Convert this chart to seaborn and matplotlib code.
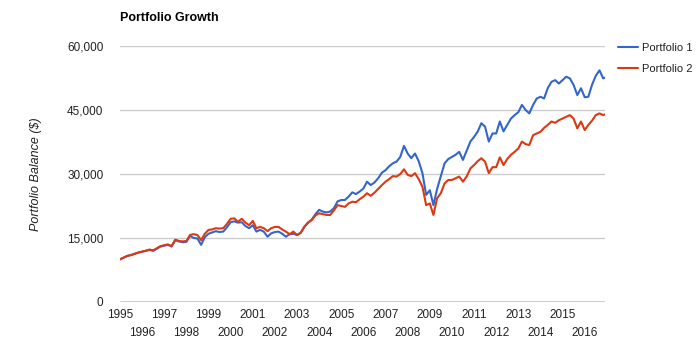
import matplotlib
matplotlib.use("Agg")
import matplotlib.pyplot as plt
from matplotlib.ticker import FixedLocator, FixedFormatter
import matplotlib.dates as mdates
import seaborn as sns
import pandas as pd
import numpy as np

# Bimonthly balances (thousands of $), Jan 1995 .. Nov 2016, then Dec 2016
portfolio1 = [
    10.0, 10.4, 10.8, 11.0, 11.3, 11.6,   # 1995
    11.8, 12.0, 12.2, 12.0, 12.5, 13.0,   # 1996
    13.2, 13.4, 13.0, 14.5, 14.2, 14.0,   # 1997
    14.1, 15.5, 15.0, 14.9, 13.4, 15.2,   # 1998
    16.0, 16.3, 16.6, 16.4, 16.5, 17.5,   # 1999
    18.7, 18.9, 18.6, 18.7, 17.8, 17.3,   # 2000
    18.0, 16.5, 16.9, 16.5, 15.3, 16.1,   # 2001
    16.4, 16.5, 16.0, 15.3, 15.9, 16.0,   # 2002
    15.7, 16.2, 17.6, 18.6, 19.3, 20.6,   # 2003
    21.6, 21.2, 21.0, 21.2, 22.0, 23.6,   # 2004
    23.9, 23.9, 24.7, 25.7, 25.3, 25.9,   # 2005
    26.6, 28.2, 27.4, 28.0, 29.0, 30.3,   # 2006
    30.9, 31.8, 32.5, 32.9, 34.0, 36.6,   # 2007
    34.8, 33.7, 34.8, 33.0, 30.2, 25.1,   # 2008
    26.2, 22.7, 26.5, 29.5, 32.5, 33.5,   # 2009
    34.0, 34.5, 35.2, 33.3, 35.5, 37.6,   # 2010
    38.7, 39.9, 41.9, 41.1, 37.6, 39.5,   # 2011
    39.5, 42.3, 40.0, 41.5, 43.0, 43.8,   # 2012
    44.5, 46.2, 45.0, 44.2, 46.2, 47.7,   # 2013
    48.1, 47.7, 50.1, 51.6, 52.0, 51.2,   # 2014
    52.0, 52.8, 52.4, 50.9, 48.5, 50.1,   # 2015
    48.0, 48.1, 50.9, 53.0, 54.3, 52.4,   # 2016
    52.6,
]
portfolio2 = [
    10.0, 10.4, 10.8, 11.0, 11.3, 11.6,   # 1995
    11.8, 12.0, 12.3, 12.1, 12.6, 13.1,   # 1996
    13.3, 13.5, 13.1, 14.6, 14.3, 14.2,   # 1997
    14.3, 15.7, 15.9, 15.7, 14.5, 16.0,   # 1998
    16.9, 17.0, 17.3, 17.2, 17.3, 18.3,   # 1999
    19.5, 19.6, 18.8, 19.5, 18.6, 18.0,   # 2000
    19.0, 17.3, 17.6, 17.3, 16.6, 17.3,   # 2001
    17.6, 17.6, 17.0, 16.5, 15.9, 16.5,   # 2002
    15.7, 16.2, 17.6, 18.6, 19.2, 20.3,   # 2003
    20.8, 20.6, 20.4, 20.4, 21.5, 22.7,   # 2004
    22.5, 22.3, 23.1, 23.5, 23.4, 24.1,   # 2005
    24.7, 25.5, 24.9, 25.6, 26.5, 27.4,   # 2006
    28.2, 28.8, 29.5, 29.4, 30.0, 31.1,   # 2007
    29.8, 29.5, 30.2, 28.8, 27.0, 22.7,   # 2008
    23.1, 20.4, 24.3, 25.5, 27.8, 28.6,   # 2009
    28.6, 29.0, 29.4, 28.2, 29.4, 31.3,   # 2010
    32.1, 33.0, 33.7, 32.9, 30.2, 31.6,   # 2011
    31.6, 33.9, 32.1, 33.5, 34.5, 35.2,   # 2012
    36.0, 37.6, 37.0, 36.8, 39.1, 39.5,   # 2013
    39.9, 40.8, 41.5, 42.3, 42.0, 42.6,   # 2014
    43.0, 43.4, 43.8, 43.0, 40.7, 42.3,   # 2015
    40.3, 41.5, 42.5, 43.8, 44.2, 43.8,   # 2016
    44.0,
]
series_names = ["Portfolio 1", "Portfolio 2"]
years = list(range(1995, 2017))
y_ticks = [0, 15000, 30000, 45000, 60000]
y_tick_labels = ["0", "15,000", "30,000", "45,000", "60,000"]

dates = pd.date_range("1995-01-01", periods=132, freq="2MS").append(
    pd.DatetimeIndex(["2016-12-01"]))

df = pd.concat([
    pd.DataFrame({"date": dates, "balance": np.array(portfolio1) * 1000, "series": series_names[0]}),
    pd.DataFrame({"date": dates, "balance": np.array(portfolio2) * 1000, "series": series_names[1]}),
])

sns.set_style("white")
plt.rcParams["font.family"] = ["Liberation Sans", "DejaVu Sans"]

fig = plt.figure(figsize=(7.0, 3.41), dpi=100)
ax = fig.add_axes([120 / 700, 1 - 302 / 341, (605 - 120) / 700, (302 - 46) / 341])

sns.lineplot(data=df, x="date", y="balance", hue="series",
             palette=["#3366cc", "#dc3912"], linewidth=1.5, ax=ax, legend=True)

ax.set_ylim(0, 60000)
ax.set_xlim(pd.Timestamp("1995-01-01"), pd.Timestamp("2016-12-01"))
ax.set_yticks(y_ticks)
ax.set_yticklabels(y_tick_labels)
ax.yaxis.grid(True, color="#cccccc", linewidth=1)
ax.xaxis.grid(False)
ax.axhline(0, color="#333333", linewidth=1, zorder=3)
for s in ax.spines.values():
    s.set_visible(False)

odd_years = [y for y in years if (y - 1995) % 2 == 0]
even_years = [y for y in years if (y - 1995) % 2 == 1]
odd_pos = [mdates.date2num(pd.Timestamp(f"{y}-01-01")) for y in odd_years]
even_pos = [mdates.date2num(pd.Timestamp(f"{y}-01-01")) for y in even_years]
ax.xaxis.set_major_locator(FixedLocator(odd_pos))
ax.xaxis.set_major_formatter(FixedFormatter([str(y) for y in odd_years]))
ax.xaxis.set_minor_locator(FixedLocator(even_pos))
ax.xaxis.set_minor_formatter(FixedFormatter([str(y) for y in even_years]))

ax.tick_params(axis="both", which="both", length=0, labelsize=8.5, labelcolor="#222222")
ax.tick_params(axis="y", pad=12)
ax.tick_params(axis="x", which="major", pad=5)
ax.tick_params(axis="x", which="minor", pad=18)

ax.set_xlabel("")
ax.set_ylabel("Portfolio Balance ($)", fontsize=9, style="italic", color="#222222", labelpad=18)

fig.text(120 / 700, 1 - 18 / 341, "Portfolio Growth", fontsize=9, fontweight="bold",
         ha="left", va="center", color="#000000")

leg = ax.legend(loc="upper left", bbox_to_anchor=((618 - 120) / 485, (302 - 43) / 256),
                frameon=False, borderaxespad=0, borderpad=0,
                fontsize=8, handlelength=1.8, handletextpad=0.4, labelspacing=0.95)
for t in leg.get_texts():
    t.set_color("#222222")

fig.savefig("out.png", dpi=100)
